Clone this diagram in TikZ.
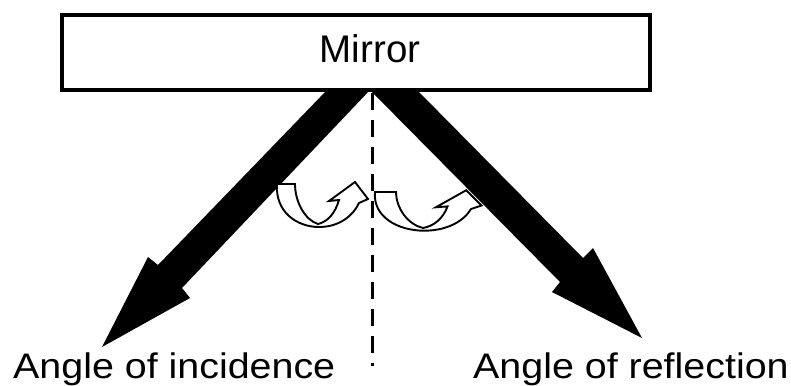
\documentclass[tikz,border=0pt]{standalone}
\usepackage{fontspec}
\setmainfont{Liberation Sans}
\newfontfamily\labelfont{Liberation Sans}[FakeStretch=1.11]

\begin{document}
\begin{tikzpicture}[x=1pt,y=-1pt,line join=miter]
  \tikzset{
    mirrorline/.style={line width=3.5pt},
    normalline/.style={line width=3pt,dash pattern=on 17pt off 10pt},
    bigray/.style={fill=black},
    sidelabel/.style={anchor=base west,inner sep=0pt,font=\labelfont\fontsize{35.5}{38}\selectfont},
    turnarrow/.pic={
      \draw[fill=white,line width=1.9pt]
        (0,0) .. controls (-2,28) and (20,43) .. (42,43)
        .. controls (62,43) and (76,32) .. (82,19) -- (91,15) -- (78,-2) -- (52,17) -- (62,16)
        .. controls (58,30) and (50,38) .. (41,40)
        .. controls (28,36) and (18,18) .. (18,0) -- cycle;}}
  \useasboundingbox (0,0) rectangle (791,385);
  % rayos incidente y reflejado
  \fill[bigray] (327,90) -- (370,90) -- (182,288) -- (190,298) -- (102,347) -- (148,257) -- (158,265) -- cycle;
  \fill[bigray] (370,90) -- (417,90) -- (583,258) -- (593,248) -- (642,338) -- (552,292) -- (560,282) -- cycle;
  % espejo y normal
  \draw[mirrorline] (62,15) rectangle (650,90);
  \node[anchor=base,inner sep=0pt,font=\fontsize{38.5}{40}\selectfont] (mirror) at (370,63) {Mirror};
  \coordinate (nA) at (372,93); \coordinate (nB) at (372,366);
  \draw[normalline] (nA) -- (nB);
  % angulos
  \pic at (277,184) {turnarrow};
  \pic[xscale=1.17,yscale=0.9] at (375,192) {turnarrow};
  \node[sidelabel] (inc) at (13,378) {Angle of incidence};
  \node[sidelabel] (refl) at (473,378) {Angle of reflection};
\end{tikzpicture}
\end{document}
